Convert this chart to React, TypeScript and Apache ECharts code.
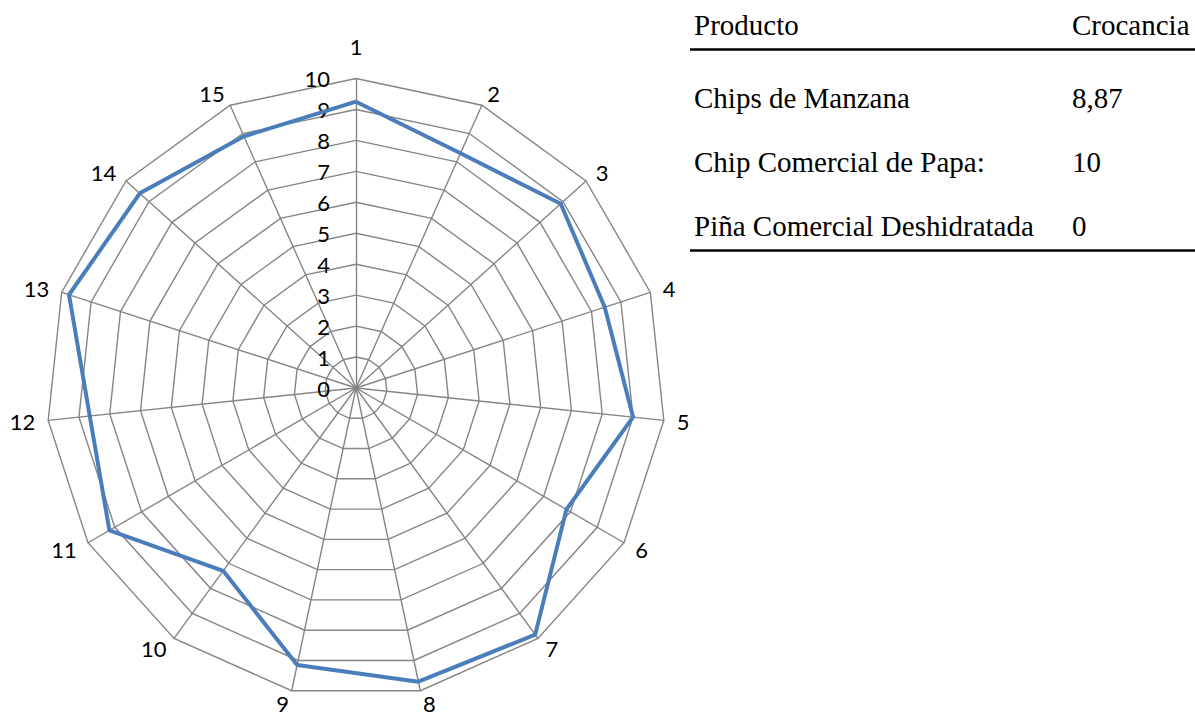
import React, { useEffect, useRef } from "react";
import * as echarts from "echarts";

// Radar axes (sample numbers 1..15) and the crunchiness score on each
const axisNames = ["1", "2", "3", "4", "5", "6", "7", "8", "9", "10", "11", "12", "13", "14", "15"];
const crocancia = [9.25, 8.3, 8.9, 8.45, 9.0, 7.85, 9.85, 9.7, 9.15, 7.3, 9.2, 8.65, 9.75, 9.4, 8.9];
const scaleMin = 0;
const scaleMax = 10;
const scaleSteps = 10;

// Reference table shown beside the chart
const tableHeader = ["Producto", "Crocancia"];
const tableProducts = ["Chips de Manzana", "Chip Comercial de Papa:", "Piña Comercial Deshidratada"];
const tableValues = ["8,87", "10", "0"];

const GRID = "#858585";
const LINE = "#4A7EBB";
const LABEL_FONT = "Lato";
const LABEL_SIZE = 22;
const SERIF = "'Liberation Serif', 'Times New Roman', serif";

export default function App() {
  const ref = useRef<HTMLDivElement>(null);

  useEffect(() => {
    if (!ref.current) return;
    const chart = echarts.init(ref.current, undefined, { renderer: "svg" });

    // ECharts lays radar indicators out counter-clockwise; reorder so they run clockwise
    const order = [0, ...axisNames.map((_, i) => i).slice(1).reverse()];

    const indicator = order.map((i) => ({
      name: axisNames[i],
      min: scaleMin,
      max: scaleMax,
      ...(i === 0
        ? {
            axisLabel: {
              show: true,
              color: "#000",
              fontFamily: LABEL_FONT,
              fontSize: LABEL_SIZE,
              margin: 26,
              padding: [6, 0, 0, 0],
            },
          }
        : {}),
    }));

    // the top name sits a little higher, the two bottom ones a little tighter
    const nameStyle = { color: "#000", fontFamily: LABEL_FONT, fontSize: LABEL_SIZE };
    const axisNameFormatter = (name: string) => {
      if (name === axisNames[0]) return `{top|${name}}`;
      if (name === axisNames[7] || name === axisNames[8]) return `{low|${name}}`;
      return name;
    };

    const rowY = [98, 162, 226];
    const font = `29px ${SERIF}`;

    const graphic: any[] = [
      { type: "text", left: 694, top: 10, style: { text: tableHeader[0], font, fill: "#000" } },
      { type: "text", left: 1072, top: 10, style: { text: tableHeader[1], font, fill: "#000" } },
      {
        type: "line",
        shape: { x1: 690, y1: 49.5, x2: 1195, y2: 49.5 },
        style: { stroke: "#000", lineWidth: 2.5 },
      },
      {
        type: "line",
        shape: { x1: 690, y1: 250.5, x2: 1195, y2: 250.5 },
        style: { stroke: "#000", lineWidth: 2.5 },
      },
      ...tableProducts.map((p, k) => ({
        type: "text",
        left: 694,
        top: rowY[k] - 15,
        style: { text: p, font, fill: "#000" },
      })),
      ...tableValues.map((v, k) => ({
        type: "text",
        left: 1072,
        top: rowY[k] - 15,
        style: { text: v, font, fill: "#000" },
      })),
    ];

    chart.setOption({
      animation: false,
      backgroundColor: "#fff",
      radar: {
        center: [356, 388],
        radius: 309.5,
        startAngle: 90,
        splitNumber: scaleSteps,
        shape: "polygon",
        indicator,
        nameGap: 13,
        axisName: {
          ...nameStyle,
          formatter: axisNameFormatter,
          rich: {
            top: { ...nameStyle, padding: [0, 0, 8, 0] },
            low: { ...nameStyle, lineHeight: 13 },
          },
        },
        axisLine: { lineStyle: { color: GRID, width: 1.4 } },
        splitLine: { lineStyle: { color: GRID, width: 1.4 } },
        splitArea: { show: false },
        axisTick: { show: false },
        axisLabel: { show: false },
      },
      series: [
        {
          type: "radar",
          symbol: "none",
          silent: true,
          lineStyle: { color: LINE, width: 4 },
          data: [{ value: order.map((i) => crocancia[i]), name: "Crocancia" }],
        },
      ],
      graphic,
    });

    return () => chart.dispose();
  }, []);

  return (
    <div
      ref={ref}
      style={{ position: "fixed", left: 0, top: 0, width: 1195, height: 713, background: "#fff" }}
    />
  );
}
